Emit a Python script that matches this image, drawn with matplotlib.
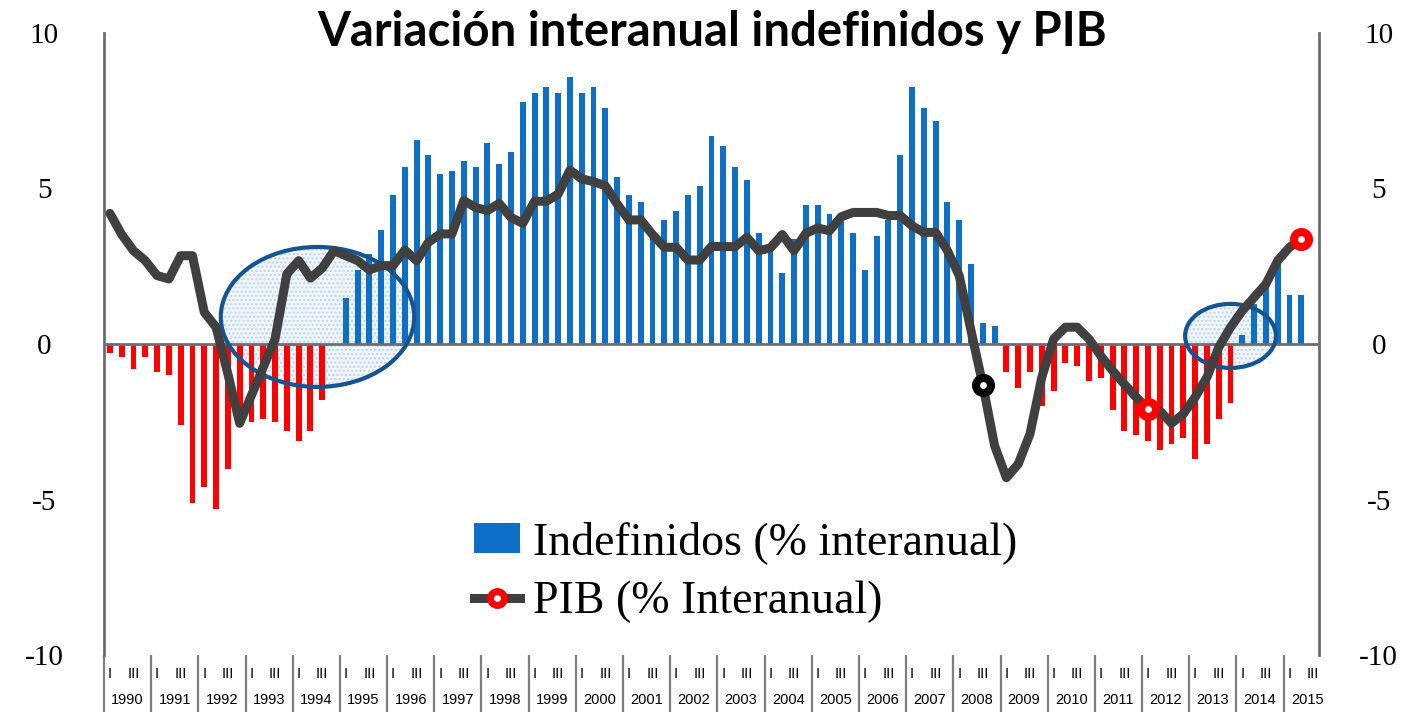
import matplotlib
matplotlib.use("Agg")
import matplotlib.pyplot as plt
from matplotlib.patches import Ellipse, Patch
from matplotlib.lines import Line2D
import matplotlib.transforms as mtransforms
import numpy as np

# ---------------- data ----------------
years = [str(y) for y in range(1990, 2016)]
quarter_labels = ["I", "III"]

indefinidos = [
    -0.30, -0.43, -0.81, -0.43,   # 1990
    -0.91, -1.01, -2.62, -5.12,   # 1991
    -4.61, -5.32, -4.03, -2.50,   # 1992
    -2.52, -2.42, -2.52, -2.81,   # 1993
    -3.13, -2.81, -1.80, 0.00,    # 1994
    1.48, 2.39, 2.88, 3.68,       # 1995
    4.79, 5.68, 6.57, 6.08,       # 1996
    5.48, 5.57, 5.88, 5.68,       # 1997
    6.47, 5.78, 6.17, 7.78,       # 1998
    8.08, 8.27, 8.08, 8.57,       # 1999
    8.08, 8.27, 7.58, 5.38,       # 2000
    4.78, 4.58, 3.68, 3.99,       # 2001
    4.29, 4.78, 5.08, 6.68,       # 2002
    6.38, 5.68, 5.27, 3.58,       # 2003
    3.00, 2.28, 3.38, 4.48,       # 2004
    4.48, 4.18, 3.99, 3.58,       # 2005
    2.39, 3.48, 3.99, 6.08,       # 2006
    8.27, 7.58, 7.18, 4.58,       # 2007
    3.99, 2.58, 0.68, 0.58,       # 2008
    -0.91, -1.43, -0.91, -2.00,   # 2009
    -1.52, -0.62, -0.72, -1.20,   # 2010
    -1.10, -2.11, -2.81, -2.92,   # 2011
    -3.13, -3.42, -3.23, -3.03,   # 2012
    -3.71, -3.23, -2.42, -1.91,   # 2013
    0.29, 1.29, 2.00, 2.57,       # 2014
    1.58, 1.58,                   # 2015
]

pib = [
    4.20, 3.52, 3.00, 2.68,       # 1990
    2.20, 2.09, 2.84, 2.84,       # 1991
    1.02, 0.54, -0.96, -2.55,     # 1992
    -1.65, -0.75, 0.16, 2.25,     # 1993
    2.68, 2.12, 2.44, 3.00,       # 1994
    2.84, 2.68, 2.38, 2.52,       # 1995
    2.52, 3.02, 2.68, 3.27,       # 1996
    3.54, 3.54, 4.61, 4.39,       # 1997
    4.29, 4.52, 4.07, 3.88,       # 1998
    4.59, 4.59, 4.82, 5.59,       # 1999
    5.31, 5.22, 5.09, 4.50,       # 2000
    3.99, 3.99, 3.52, 3.11,       # 2001
    3.11, 2.70, 2.70, 3.14,       # 2002
    3.13, 3.13, 3.43, 3.00,       # 2003
    3.09, 3.52, 3.00, 3.56,       # 2004
    3.73, 3.64, 4.09, 4.23,       # 2005
    4.23, 4.23, 4.13, 4.13,       # 2006
    3.80, 3.59, 3.59, 3.00,       # 2007
    2.20, 0.43, -1.31, -3.27,     # 2008
    -4.30, -3.86, -2.89, -1.07,   # 2009
    0.16, 0.54, 0.54, 0.16,       # 2010
    -0.38, -0.86, -1.29, -1.71,   # 2011
    -2.09, -2.15, -2.55, -2.25,   # 2012
    -1.71, -1.07, -0.11, 0.54,    # 2013
    1.07, 1.50, 1.93, 2.68,       # 2014
    3.11, 3.38,                   # 2015
]

highlight_idx = [74, 88, 101]
highlight_edge = ["black", "red", "red"]

y_ticks = [10, 5, 0, -5, -10]
n_slots = 103  # 1990 Q1 .. 2015 Q3

# ---------------- figure ----------------
W, H = 1415, 712
fig = plt.figure(figsize=(W / 100, H / 100), dpi=100)
L, R, T, B = 104, 1319, 33, 655
ax = fig.add_axes([L / W, 1 - B / H, (R - L) / W, (B - T) / H])

x = np.arange(len(indefinidos))
bar_colors = ["#0F6FC6" if v >= 0 else "#FF0000" for v in indefinidos]
ax.bar(x, indefinidos, width=0.5, color=bar_colors, zorder=2)

ax.axhline(0, color="#6E6E6E", lw=2, zorder=2.2)

xp = np.arange(len(pib))
ax.plot(xp, pib, color="#404040", lw=6.5, solid_joinstyle="round",
        solid_capstyle="round", zorder=4)
for idx, ec in zip(highlight_idx, highlight_edge):
    ax.plot(xp[idx], pib[idx], marker="o", ms=10.8, mew=5.8,
            mfc="white", mec=ec, zorder=5)

# annotation ellipses
for (cx, cy, w, h) in [(17.6, 0.87, 16.4, 4.5), (95.0, 0.26, 7.7, 2.06)]:
    ax.add_patch(Ellipse((cx, cy), w, h, facecolor="#f1f6fc", edgecolor="#b9d2ec",
                         lw=0, hatch="....", zorder=1))
    ax.add_patch(Ellipse((cx, cy), w, h, facecolor="none", edgecolor="#15548F",
                         lw=3, zorder=3))

ax.set_xlim(-0.5, n_slots - 0.5)
ax.set_ylim(-10, 10)

# spines
for s in ["top", "bottom"]:
    ax.spines[s].set_visible(False)
for s in ["left", "right"]:
    ax.spines[s].set_color("#6E6E6E")
    ax.spines[s].set_linewidth(2)

# y ticks on both sides
ax.set_yticks(y_ticks)
ax.set_yticklabels([str(v) for v in y_ticks])
ax.tick_params(axis="y", which="both", length=0, labelleft=True, labelright=True,
               labelsize=21, pad=43)
for t in ax.yaxis.get_major_ticks():
    t.label1.set_horizontalalignment("center")
    t.label2.set_horizontalalignment("center")
    t.label1.set_fontfamily("Liberation Serif")
    t.label2.set_fontfamily("Liberation Serif")

# x category axis: quarter labels I / III, year separators
q_pos = []
q_lab = []
for k in range(len(years)):
    q_pos += [4 * k, 4 * k + 2]
    q_lab += quarter_labels
ax.set_xticks(q_pos)
ax.set_xticklabels(q_lab, fontsize=10.5, family="Liberation Sans")
ax.tick_params(axis="x", which="major", length=0, pad=9)
ax.set_xticks([4 * k - 0.5 for k in range(len(years))], minor=True)
ax.tick_params(axis="x", which="minor", length=41, width=1.6, color="#808080")

trans = mtransforms.blended_transform_factory(ax.transData, ax.transAxes)
for k, yname in enumerate(years):
    ax.text(4 * k + 1.5, -45 / (B - T), yname, transform=trans, ha="center",
            va="center", fontsize=10.5, family="Liberation Sans")

# title
fig.text(712 / W, 1 - 32 / H, "Variación interanual indefinidos y PIB",
         ha="center", va="center", fontsize=34, fontweight="bold", family="Lato")

# legend
handles = [Patch(facecolor="#0F6FC6", edgecolor="none"),
           Line2D([], [], color="#404040", lw=6.5, marker="o", ms=10, mew=5,
                  mfc="white", mec="red")]
labels = ["Indefinidos (% interanual)", "PIB (% Interanual)"]
leg = ax.legend(handles, labels, loc="upper left",
                bbox_to_anchor=(456 / W, 1 - 503 / H), bbox_transform=fig.transFigure,
                frameon=False, prop={"family": "Liberation Serif", "size": 33},
                handlelength=1.0, handleheight=0.65, handletextpad=0.28,
                labelspacing=0.36, borderaxespad=0)

fig.savefig("out.png", dpi=100)
